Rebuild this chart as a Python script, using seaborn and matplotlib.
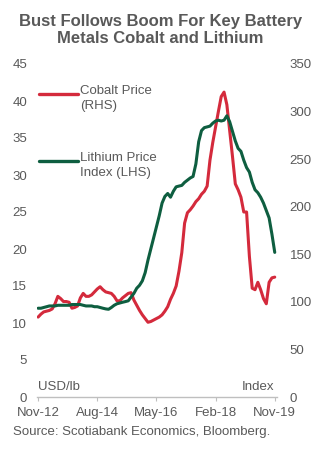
import matplotlib
matplotlib.use("Agg")
import matplotlib.pyplot as plt
import seaborn as sns
import pandas as pd
import numpy as np
from matplotlib.lines import Line2D

sns.set_theme(style="white")
plt.rcParams['font.family'] = ['Liberation Sans', 'DejaVu Sans']

# months since Nov-12
months = list(range(85))
x_ticks = [0, 21, 42, 63, 84]
x_labels = ["Nov-12", "Aug-14", "May-16", "Feb-18", "Nov-19"]

cobalt = [10.8, 11.2, 11.5, 11.6, 11.7, 11.9, 12.6, 13.6, 13.3, 12.9,
          12.9, 12.8, 12.0, 12.1, 12.3, 13.4, 14.0, 13.6, 13.6, 13.8,
          14.2, 14.6, 14.9, 14.5, 14.2, 14.1, 14.0, 13.6, 13.0, 13.0,
          13.4, 13.7, 14.0, 14.1, 13.1, 12.4, 11.7, 11.1, 10.6, 10.1,
          10.2, 10.4, 10.6, 10.8, 11.1, 11.6, 12.2, 13.2, 14.0, 15.0,
          17.0, 19.5, 23.5, 24.9, 25.3, 25.8, 26.4, 26.8, 27.4, 27.8,
          28.5, 32.0, 34.4, 36.5, 38.6, 40.6, 41.2, 39.5, 36.0, 32.5,
          28.8, 28.0, 27.0, 25.0, 25.0, 19.0, 14.7, 14.5, 15.5, 14.5,
          13.3, 12.6, 15.5, 16.1, 16.2]

lithium = [93.3, 93.3, 94.1, 94.9, 95.7, 95.7, 95.7, 96.4, 96.4, 96.4,
           96.4, 96.4, 97.2, 97.2, 97.2, 97.2, 96.4, 95.7, 95.7, 95.7,
           94.9, 94.9, 94.1, 93.3, 92.6, 92.2, 94.1, 96.4, 98.0, 98.8,
           99.6, 100.3, 101.1, 105.0, 108.9, 114.3, 117.4, 122.1, 130.7, 143.9,
           155.6, 167.2, 178.9, 190.6, 203.8, 210.8, 213.9, 210.0, 216.2, 220.9,
           221.7, 222.4, 225.6, 227.9, 230.2, 231.8, 245.0, 268.3, 280.0, 283.1,
           283.9, 284.7, 287.8, 290.1, 290.9, 290.1, 290.9, 295.6, 289.3, 279.2,
           269.1, 261.3, 258.2, 248.9, 241.1, 236.4, 225.6, 217.8, 214.7, 210.0,
           203.8, 196.0, 188.2, 171.1, 152.0]

df = pd.DataFrame({"month": months, "cobalt": cobalt, "lithium": lithium})

RED = "#D42A3C"
GREEN = "#0E5E40"
GREY = "#595959"
FS = 9.5

fig = plt.figure(figsize=(3.21, 4.5), dpi=100)
ax = fig.add_axes([37/321, 1-397/450, 240/321, 333/450])
ax2 = ax.twinx()

sns.lineplot(data=df, x="month", y="cobalt", ax=ax, color=RED, lw=2.2)
sns.lineplot(data=df, x="month", y="lithium", ax=ax2, color=GREEN, lw=2.2)

ax.set_xlim(-0.4, 84.8)
ax.set_ylim(0, 45)
ax2.set_ylim(0, 350)
ax.set_yticks(np.arange(0, 46, 5))
ax2.set_yticks(np.arange(0, 351, 50))
ax.set_xticks(x_ticks)
ax.set_xticklabels(x_labels)
ax.set_xlabel("")
ax.set_ylabel("")
ax2.set_ylabel("")

for a in (ax, ax2):
    for s in a.spines.values():
        s.set_visible(False)
ax.spines['bottom'].set_visible(True)
ax.spines['bottom'].set_color("#BFBFBF")
ax.spines['bottom'].set_linewidth(1.0)
ax.tick_params(axis='x', colors="#BFBFBF", labelcolor=GREY, labelsize=FS,
               length=3, width=0.8, direction='out', pad=4, bottom=True)
ax.tick_params(axis='y', labelcolor=GREY, labelsize=FS, length=0, pad=7)
ax2.tick_params(axis='y', labelcolor=GREY, labelsize=FS, length=0, pad=9)
ax.grid(False)
ax2.grid(False)

# legend (drawn in axes fraction)
ax.add_line(Line2D([0.008, 0.171], [0.91, 0.91], transform=ax.transAxes,
                   color=RED, lw=2.4))
ax.text(0.179, 0.937, "Cobalt Price\n(RHS)", transform=ax.transAxes,
        ha='left', va='top', fontsize=FS, color=GREY, linespacing=1.3)
ax.add_line(Line2D([0.008, 0.171], [0.709, 0.709], transform=ax.transAxes,
                   color=GREEN, lw=2.4))
ax.text(0.179, 0.736, "Lithium Price\nIndex (LHS)", transform=ax.transAxes,
        ha='left', va='top', fontsize=FS, color=GREY, linespacing=1.3)

ax.text(0.003, 0.03, "USD/lb", transform=ax.transAxes, ha='left',
        va='center', fontsize=FS, color=GREY)
ax.text(0.99, 0.03, "Index", transform=ax.transAxes, ha='right',
        va='center', fontsize=FS, color=GREY)

fig.text(0.5, 1-30/450, "Bust Follows Boom For Key Battery\nMetals Cobalt and Lithium",
         ha='center', va='center', fontsize=12, fontweight='bold',
         color=GREY, linespacing=1.2)
fig.text(13/321, 1-432/450, "Source: Scotiabank Economics, Bloomberg.",
         ha='left', va='center', fontsize=FS, color=GREY)

fig.savefig("out.png", dpi=100, facecolor="white")
